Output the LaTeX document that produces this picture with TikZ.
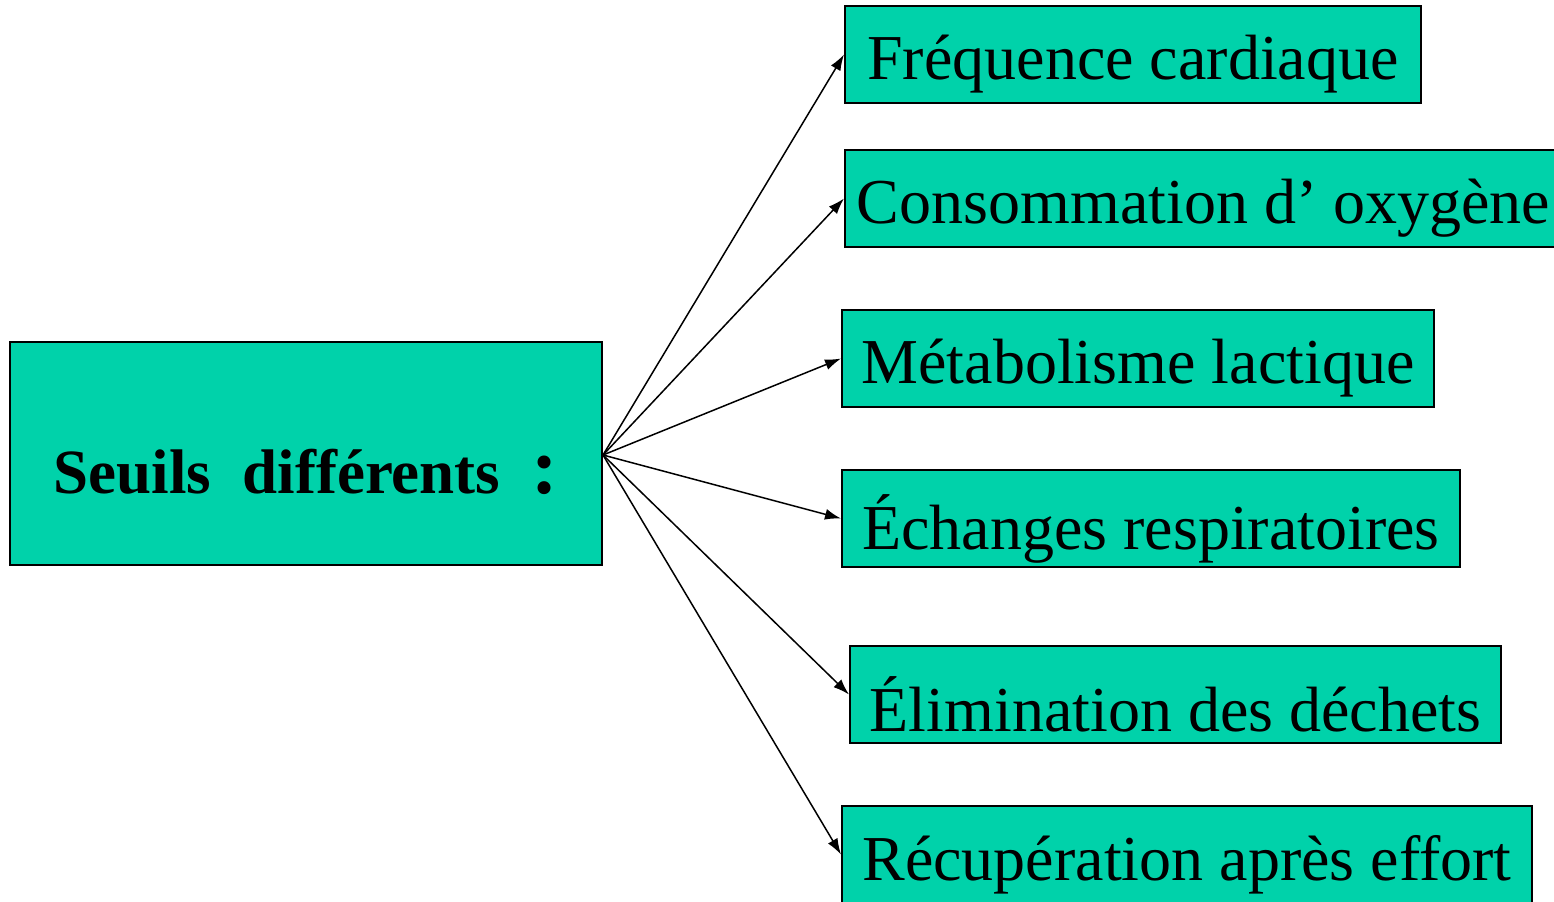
\documentclass[tikz,border=0pt]{standalone}
\usepackage{fontspec}
\setmainfont{Liberation Serif}
\usetikzlibrary{arrows.meta}
\definecolor{boxfill}{HTML}{00D2AA}
\tikzset{
  px/.style={x=0.5pt,y=-0.5pt},
  box/.style={draw=black, line width=1pt, fill=boxfill, rectangle, inner sep=0pt,
              minimum height=48.5pt},
  lbl/.style={inner sep=0pt, font=\fontsize{32}{36}\selectfont},
  link/.style={line width=0.75pt, -{Latex[length=8pt,width=5.5pt]}}
}
\begin{document}
\begin{tikzpicture}[px]
\useasboundingbox (0,0) rectangle (1554,901);
\clip (0,0) rectangle (1554,901);
\node[box, minimum width=296pt, minimum height=111.5pt] (main) at (306,453.5) {};
\node[lbl, font=\bfseries\fontsize{31.5}{36}\selectfont] (maint) at ([yshift=-9pt]main.center)
      {Seuils\ \ différents\ \ {\fontsize{40}{40}\selectfont :}};
\node[box, minimum width=288pt] (f) at (1133,54.5) {};
\node[lbl] (ft) at ([yshift=-5pt]f.center) {Fréquence cardiaque};
\node[box, minimum width=358.5pt] (c) at (1203.5,198.5) {};
\node[lbl] (ct) at ([yshift=-5pt]c.center) {Consommation d’\ oxygène};
\node[box, minimum width=296pt] (m) at (1138,358.5) {};
\node[lbl] (mt) at ([yshift=-5pt]m.center) {Métabolisme lactique};
\node[box, minimum width=309pt] (e) at (1151,518.5) {};
\node[lbl] (et) at ([yshift=-5pt]e.center) {Échanges respiratoires};
\node[box, minimum width=325.5pt] (el) at (1175.5,694.5) {};
\node[lbl] (elt) at ([yshift=-5pt]el.center) {Élimination des déchets};
\node[box, minimum width=345pt] (r) at (1187,854.5) {};
\node[lbl] (rt) at ([yshift=-5pt]r.center) {Récupération après effort};
\coordinate (s) at (603,455);
\foreach \t in {f,c,m,e,el,r} \draw[link] (s) -- (\t.west);
\end{tikzpicture}
\end{document}
